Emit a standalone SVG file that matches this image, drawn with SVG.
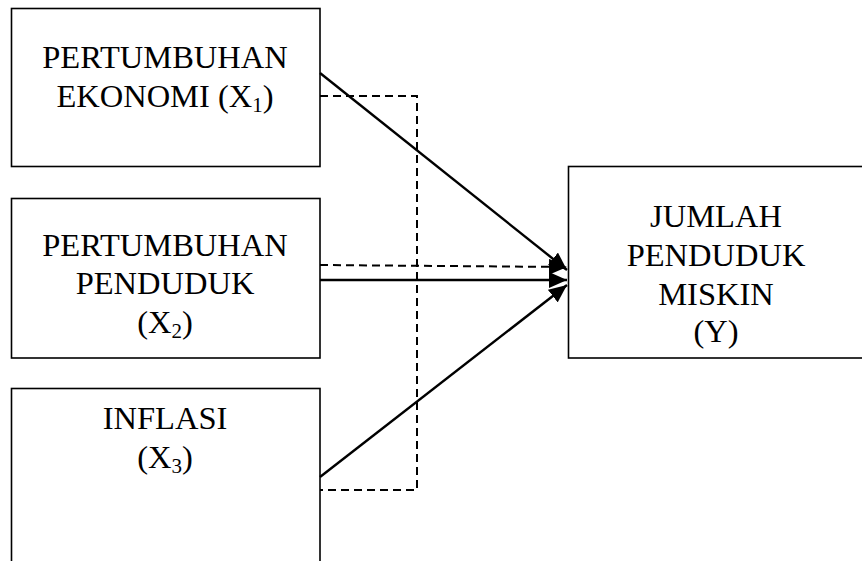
<svg xmlns="http://www.w3.org/2000/svg" width="862" height="561" viewBox="0 0 862 561">
<style>
.box{fill:#fff;stroke:#000;stroke-width:1.6}
.t{font-family:"Liberation Serif","Times New Roman",serif;font-size:32.5px;fill:#000;text-anchor:middle}
.sub{font-size:21px}
.ln{fill:none;stroke:#000;stroke-width:2.4}
.dash{fill:none;stroke:#000;stroke-width:2;stroke-dasharray:8 5}
</style>
<defs>
<marker id="ah" markerUnits="userSpaceOnUse" markerWidth="20" markerHeight="16" refX="18" refY="8" orient="auto">
<path d="M0,0 L18,8 L0,16 Z" fill="#000"/>
</marker>
</defs>
<rect width="862" height="561" fill="#fff"/>
<g id="x1">
<rect class="box" x="11.5" y="8.5" width="308.5" height="158"/>
<text class="t" x="165" y="68">PERTUMBUHAN</text>
<text class="t" x="165" y="107">EKONOMI (X<tspan class="sub" dy="5">1</tspan><tspan dy="-5">)</tspan></text>
</g>
<g id="x2">
<rect class="box" x="11.5" y="198.5" width="308.5" height="159.5"/>
<text class="t" x="165" y="256">PERTUMBUHAN</text>
<text class="t" x="165" y="294">PENDUDUK</text>
<text class="t" x="165" y="333">(X<tspan class="sub" dy="5">2</tspan><tspan dy="-5">)</tspan></text>
</g>
<g id="x3">
<rect class="box" x="11.5" y="388.5" width="308.5" height="190"/>
<text class="t" x="165" y="429">INFLASI</text>
<text class="t" x="165" y="468">(X<tspan class="sub" dy="5">3</tspan><tspan dy="-5">)</tspan></text>
</g>
<g id="y">
<rect class="box" x="568.5" y="166.5" width="300" height="191.5"/>
<text class="t" x="716" y="227">JUMLAH</text>
<text class="t" x="716" y="266">PENDUDUK</text>
<text class="t" x="716" y="305">MISKIN</text>
<text class="t" x="716" y="342">(Y)</text>
</g>
<g id="connectors">
<polyline class="dash" points="320,96 417,96 417,490 320,490"/>
<line class="dash" x1="320" y1="265" x2="567" y2="267" marker-end="url(#ah)"/>
<line class="ln" x1="320" y1="73" x2="567" y2="270" marker-end="url(#ah)"/>
<line class="ln" x1="320" y1="280" x2="567" y2="280" marker-end="url(#ah)"/>
<line class="ln" x1="320" y1="477" x2="567" y2="285" marker-end="url(#ah)"/>
</g>
</svg>
